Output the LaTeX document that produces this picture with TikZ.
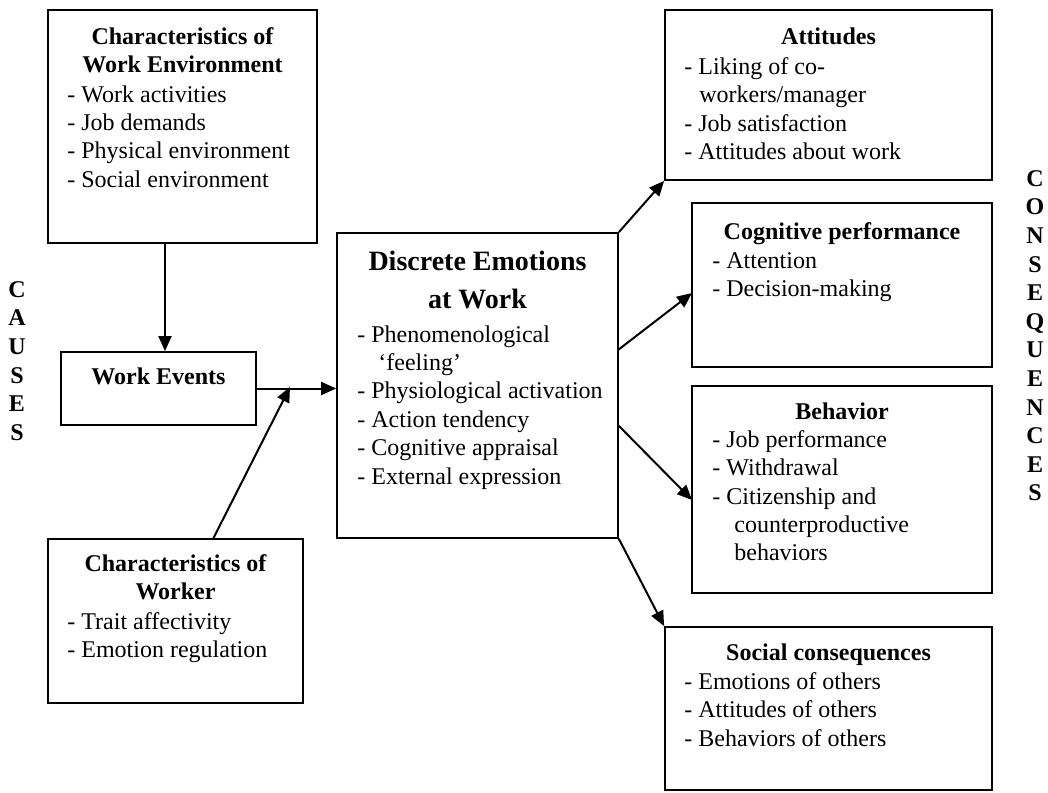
\documentclass[tikz,border=0pt]{standalone}
\usepackage{fontspec}
\setmainfont{Liberation Serif}
\usetikzlibrary{arrows.meta}

\begin{document}
\begin{tikzpicture}[x=0.5pt, y=-0.5pt,
  box/.style={draw, line width=0.9pt, inner sep=0pt},
  title/.style={font=\fontsize{12}{14.2}\selectfont\bfseries, align=center, inner sep=0pt},
  items/.style={font=\fontsize{12}{14.2}\selectfont, align=left, inner sep=0pt},
  side/.style={font=\fontsize{12}{14.3}\selectfont\bfseries, align=center, inner sep=0pt},
  arr/.style={line width=1pt, -{Triangle[length=7.5pt,width=6.5pt]}}]
\useasboundingbox (0,0) rectangle (1048,792);

% boxes
\node[box, minimum width=134.5pt, minimum height=116.5pt] (env) at (182.5,126.5) {};
\node[box, minimum width=97.5pt, minimum height=36.5pt] (events) at (158.5,388.5) {};
\node[box, minimum width=127.5pt, minimum height=82pt] (worker) at (175.5,621) {};
\node[box, minimum width=140.5pt, minimum height=152.5pt] (emo) at (477.5,385.5) {};
\node[box, minimum width=163.5pt, minimum height=85pt] (att) at (828.5,95) {};
\node[box, minimum width=150pt, minimum height=82pt] (cog) at (842,285) {};
\node[box, minimum width=150pt, minimum height=103.5pt] (beh) at (842,489.5) {};
\node[box, minimum width=163.5pt, minimum height=81.5pt] (soc) at (828.5,708.5) {};

% texts
\node[title, anchor=north] at (182.5,27) {Characteristics of\\Work Environment};
\node[items, anchor=north west] at (67,85) {- Work activities\\- Job demands\\- Physical environment\\- Social environment};
\node[title, anchor=north] at (158.5,367) {Work Events};
\node[title, anchor=north] at (175.5,554) {Characteristics of\\Worker};
\node[items, anchor=north west] at (67,612) {- Trait affectivity\\- Emotion regulation};
\node[title, anchor=north, font=\fontsize{14}{19}\selectfont\bfseries] at (477.5,251) {Discrete Emotions\\at Work};
\node[items, anchor=north west] at (357,325) {- Phenomenological\\\hspace{10.5pt}`feeling'\\- Physiological activation\\- Action tendency\\- Cognitive appraisal\\- External expression};
\node[title, anchor=north] at (828.5,27) {Attitudes};
\node[items, anchor=north west] at (684,57) {- Liking of co-\\\hspace{7.5pt}workers/manager\\- Job satisfaction\\- Attitudes about work};
\node[title, anchor=north] at (842,222) {Cognitive performance};
\node[items, anchor=north west] at (712,252) {- Attention\\- Decision-making};
\node[title, anchor=north] at (842,402) {Behavior};
\node[items, anchor=north west] at (712,430) {- Job performance\\- Withdrawal\\- Citizenship and\\\hspace{11pt}counterproductive\\\hspace{11pt}behaviors};
\node[title, anchor=north] at (828.5,643) {Social consequences};
\node[items, anchor=north west] at (684,672) {- Emotions of others\\- Attitudes of others\\- Behaviors of others};

\node[side, anchor=north] (causes) at (17,281) {C\\A\\U\\S\\E\\S};
\node[side, anchor=north] (conseq) at (1035,170) {C\\O\\N\\S\\E\\Q\\U\\E\\N\\C\\E\\S};

% connectors
\coordinate (envOut) at (165,243);
\coordinate (wk) at (213,539);
\coordinate (jn) at (290,387);
\coordinate (cogOut) at (618,350);
\coordinate (cogIn) at (692,293);
\coordinate (behOut) at (618,425);
\coordinate (behIn) at (692,500);

\draw[arr] (envOut) -- (envOut |- events.north);
\draw[arr] (events.east) -- (events.east -| emo.west);
\draw[arr] (wk) -- (jn);
\draw[arr] (emo.north east) -- (att.south west);
\draw[arr] (cogOut) -- (cogIn);
\draw[arr] (behOut) -- (behIn);
\draw[arr] (emo.south east) -- (soc.north west);
\end{tikzpicture}
\end{document}
